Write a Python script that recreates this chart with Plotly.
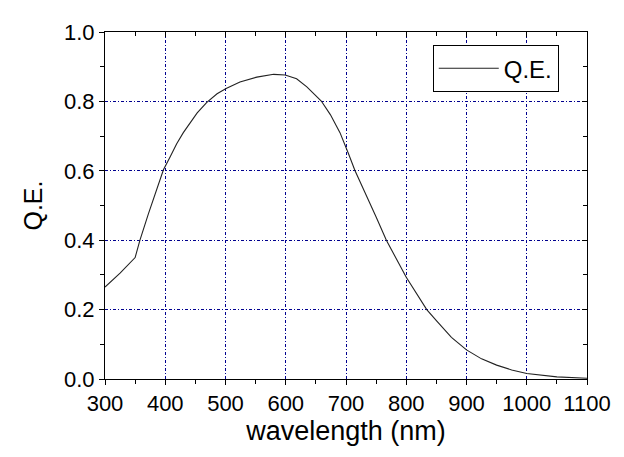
import plotly.graph_objects as go

wavelength = [300, 325, 350, 358, 372, 385, 397, 408, 419, 430, 441, 453, 469, 486, 501, 524, 552, 580, 599, 618, 635, 649, 659, 674, 690, 704, 715, 750, 767, 800, 834, 850, 875, 900, 925, 950, 975, 1000, 1025, 1050, 1100]
qe = [0.265, 0.305, 0.35, 0.40, 0.476, 0.54, 0.603, 0.640, 0.678, 0.710, 0.738, 0.767, 0.797, 0.822, 0.837, 0.856, 0.870, 0.878, 0.876, 0.865, 0.842, 0.818, 0.801, 0.762, 0.710, 0.650, 0.60, 0.467, 0.40, 0.293, 0.20, 0.168, 0.120, 0.084, 0.058, 0.040, 0.026, 0.016, 0.010, 0.006, 0.002]

x_ticks = [300, 400, 500, 600, 700, 800, 900, 1000, 1100]
y_ticks = [0.0, 0.2, 0.4, 0.6, 0.8, 1.0]

FONT = "Arial, Liberation Sans, sans-serif"

fig = go.Figure()
fig.add_trace(go.Scatter(x=wavelength, y=qe, mode="lines", name="Q.E.",
                         line=dict(color="#222222", width=1.1)))
# invisible trace to activate the mirrored (top/right) axes
fig.add_trace(go.Scatter(x=[wavelength[0]], y=[qe[0]], xaxis="x2", yaxis="y2",
                         mode="markers", marker=dict(opacity=0), showlegend=False, hoverinfo="skip"))

grid = dict(showgrid=True, gridcolor="#00008f", gridwidth=1, griddash="3px,2px,1px,2px")

fig.update_layout(
    width=624, height=457,
    margin=dict(l=97, r=45, t=16, b=86),
    paper_bgcolor="white", plot_bgcolor="white",
    font=dict(family=FONT, color="black"),
    showlegend=True,
    legend=dict(x=0.68, y=0.962, xanchor="left", yanchor="top",
                bgcolor="white", bordercolor="black", borderwidth=1,
                font=dict(size=24, family=FONT), itemwidth=60,
                tracegroupgap=0),
    xaxis=dict(range=[300, 1100], tickvals=x_ticks, ticktext=[str(v) for v in x_ticks],
               ticks="outside", ticklen=5, tickwidth=1, tickcolor="black",
               showline=True, linecolor="black", linewidth=1, zeroline=False,
               tickfont=dict(size=22), title=dict(text="wavelength (nm)", font=dict(size=27), standoff=4),
               minor=dict(dtick=50, tick0=300, ticks="outside", ticklen=4, tickcolor="black", showgrid=False),
               **grid),
    yaxis=dict(range=[0, 1.0], tickvals=y_ticks, ticktext=[f"{v:.1f}" for v in y_ticks],
               ticks="outside", ticklen=5, tickwidth=1, tickcolor="black",
               showline=True, linecolor="black", linewidth=1, zeroline=False,
               tickfont=dict(size=22), title=dict(text="Q.E.", font=dict(size=25), standoff=14),
               minor=dict(dtick=0.1, tick0=0, ticks="outside", ticklen=4, tickcolor="black", showgrid=False),
               **grid),
    xaxis2=dict(range=[300, 1100], overlaying="x", side="top", anchor="y",
                tickvals=x_ticks, showticklabels=False, ticks="inside", ticklen=5,
                tickcolor="black", showline=True, linecolor="black", linewidth=1,
                showgrid=False, zeroline=False,
                minor=dict(dtick=50, tick0=300, ticks="inside", ticklen=4, tickcolor="black")),
    yaxis2=dict(range=[0, 1.0], overlaying="y", side="right", anchor="x",
                tickvals=y_ticks, showticklabels=False, ticks="inside", ticklen=5,
                tickcolor="black", showline=True, linecolor="black", linewidth=1,
                showgrid=False, zeroline=False,
                minor=dict(dtick=0.1, tick0=0, ticks="inside", ticklen=4, tickcolor="black")),
)

fig.write_html("out.html")
